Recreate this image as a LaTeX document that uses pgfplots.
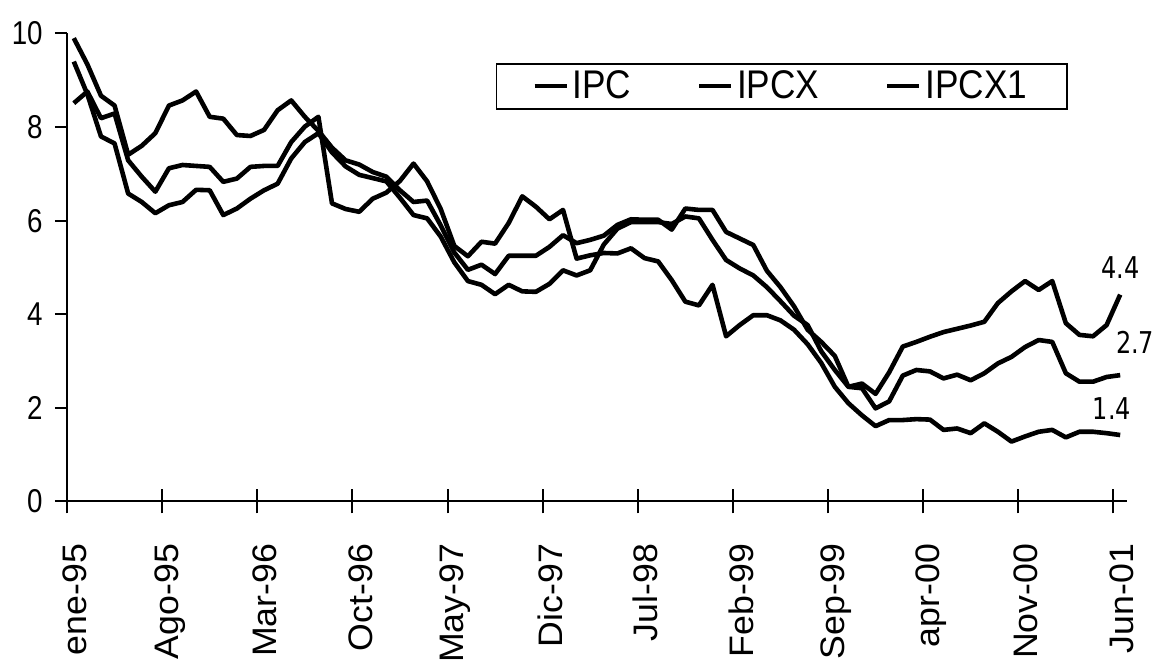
\documentclass[border=0pt]{standalone}
\usepackage{fontspec}
\setmainfont{Liberation Sans}
\newfontfamily\dejavu{DejaVu Sans}
\usepackage{graphicx}
\usepackage{pgfplots}
\usepackage{pgfplotstable}
\pgfplotsset{compat=1.18}
\newcommand{\hs}[2]{\scalebox{#1}[1]{#2}}

\pgfplotstableread{
x P Q R
0.5 9.90 9.40 8.51
1.5 9.34 8.70 8.76
2.5 8.67 7.80 8.19
3.5 8.46 7.65 8.29
4.5 7.41 6.58 7.29
5.5 7.60 6.40 6.94
6.5 7.87 6.16 6.62
7.5 8.46 6.33 7.12
8.5 8.57 6.40 7.19
9.5 8.76 6.66 7.17
10.5 8.22 6.65 7.15
11.5 8.18 6.12 6.83
12.5 7.83 6.26 6.90
13.5 7.81 6.47 7.15
14.5 7.94 6.65 7.17
15.5 8.36 6.79 7.17
16.5 8.57 7.33 7.68
17.5 8.22 7.68 8.01
18.5 7.92 7.87 8.22
19.5 7.56 7.46 6.37
20.5 7.29 7.16 6.25
21.5 7.20 6.98 6.19
22.5 7.04 6.91 6.47
23.5 6.94 6.84 6.60
24.5 6.65 6.49 6.85
25.5 6.40 6.12 7.22
26.5 6.43 6.05 6.84
27.5 5.90 5.66 6.25
28.5 5.32 5.11 5.46
29.5 4.95 4.71 5.24
30.5 5.06 4.63 5.55
31.5 4.86 4.43 5.51
32.5 5.25 4.63 5.95
33.5 5.25 4.49 6.52
34.5 5.25 4.48 6.30
35.5 5.44 4.65 6.03
36.5 5.69 4.94 6.23
37.5 5.52 4.83 5.19
38.5 5.59 4.94 5.26
39.5 5.68 5.49 5.31
40.5 5.91 5.83 5.30
41.5 6.03 5.97 5.41
42.5 6.02 5.97 5.20
43.5 6.02 5.97 5.13
44.5 5.81 5.93 4.73
45.5 6.26 6.09 4.27
46.5 6.23 6.05 4.19
47.5 6.23 5.59 4.63
48.5 5.76 5.16 3.53
49.5 5.62 4.98 3.77
50.5 5.48 4.83 3.98
51.5 4.93 4.58 3.98
52.5 4.58 4.28 3.87
53.5 4.17 3.97 3.67
54.5 3.67 3.77 3.36
55.5 3.41 3.21 2.96
56.5 3.11 2.81 2.45
57.5 2.45 2.45 2.10
58.5 2.52 2.42 1.84
59.5 2.30 1.99 1.61
60.5 2.76 2.14 1.74
61.5 3.31 2.69 1.74
62.5 3.41 2.81 1.76
63.5 3.52 2.78 1.75
64.5 3.62 2.63 1.53
65.5 3.69 2.71 1.56
66.5 3.76 2.59 1.46
67.5 3.84 2.74 1.67
68.5 4.24 2.95 1.49
69.5 4.49 3.09 1.28
70.5 4.71 3.30 1.39
71.5 4.52 3.45 1.49
72.5 4.71 3.41 1.53
73.5 3.81 2.74 1.37
74.5 3.56 2.56 1.49
75.5 3.53 2.56 1.49
76.5 3.77 2.66 1.46
77.5 4.42 2.70 1.42
}\datatable

\begin{document}
\begin{tikzpicture}
\begin{axis}[
  scale only axis, width=530pt, height=234pt,
  xmin=0, xmax=78, ymin=0, ymax=10,
  axis lines=left,
  axis line style={-, line width=1pt, black},
  xtick={0,7,14,21,28,35,42,49,56,63,70,77},
  xticklabels={\hs{1.05}{ene-95},\hs{1.05}{Ago-95},\hs{1.05}{Mar-96},\hs{1.05}{Oct-96},\hs{1.05}{May-97},\hs{1.05}{Dic-97},\hs{1.05}{Jul-98},\hs{1.05}{Feb-99},\hs{1.05}{Sep-99},\hs{1.05}{apr-00},\hs{1.05}{Nov-00},\hs{1.05}{Jun-01}},
  ytick={0,2,4,6,8,10},
  yticklabels={\hs{0.84}{0},\hs{0.84}{2},\hs{0.84}{4},\hs{0.84}{6},\hs{0.84}{8},\hs{0.84}{10}},
  tick style={black, line width=1pt},
  major tick length=12pt,
  xtick align=center,
  ytick align=outside,
  ytick style={/pgfplots/major tick length=6pt},
  yticklabel style={font=\fontsize{16.5}{19}\selectfont, anchor=east, inner sep=0pt},
  xticklabel style={font=\fontsize{17}{20}\selectfont, rotate=90, anchor=east, inner sep=0pt, xshift=-15pt, yshift=-4pt},
  clip=false,
  legend columns=3,
  legend style={at={(axis cs:52.6,8.87)}, anchor=center, draw=black, line width=0.8pt,
    font=\fontsize{20}{24}\selectfont, inner xsep=18pt, inner ysep=1.5pt,
    /tikz/every even column/.append style={column sep=31pt}},
  legend image code/.code={\draw[line width=2pt] (0pt,0pt) -- (16pt,0pt);},
]
\addplot[black, line width=2.3pt, line join=round] table[x=x,y=P] {\datatable};
\addlegendentry{\hs{0.88}{IPC}}
\addplot[black, line width=2.3pt, line join=round] table[x=x,y=Q] {\datatable};
\addlegendentry{\hs{0.88}{IPCX}}
\addplot[black, line width=2.3pt, line join=round] table[x=x,y=R] {\datatable};
\addlegendentry{\hs{0.88}{IPCX1}}
\node[font=\dejavu\fontsize{15}{18}\selectfont, inner sep=0pt] at (axis cs:77.5,5.0) {\hs{0.8}{4.4}};
\node[font=\dejavu\fontsize{15}{18}\selectfont, inner sep=0pt] at (axis cs:78.6,3.39) {\hs{0.8}{2.7}};
\node[font=\dejavu\fontsize{15}{18}\selectfont, inner sep=0pt] at (axis cs:76.9,1.98) {\hs{0.8}{1.4}};
\end{axis}
\pgfresetboundingbox
\path[use as bounding box] (-33.5pt,-85.25pt) rectangle (546.5pt,250.75pt);
\end{tikzpicture}
\end{document}
